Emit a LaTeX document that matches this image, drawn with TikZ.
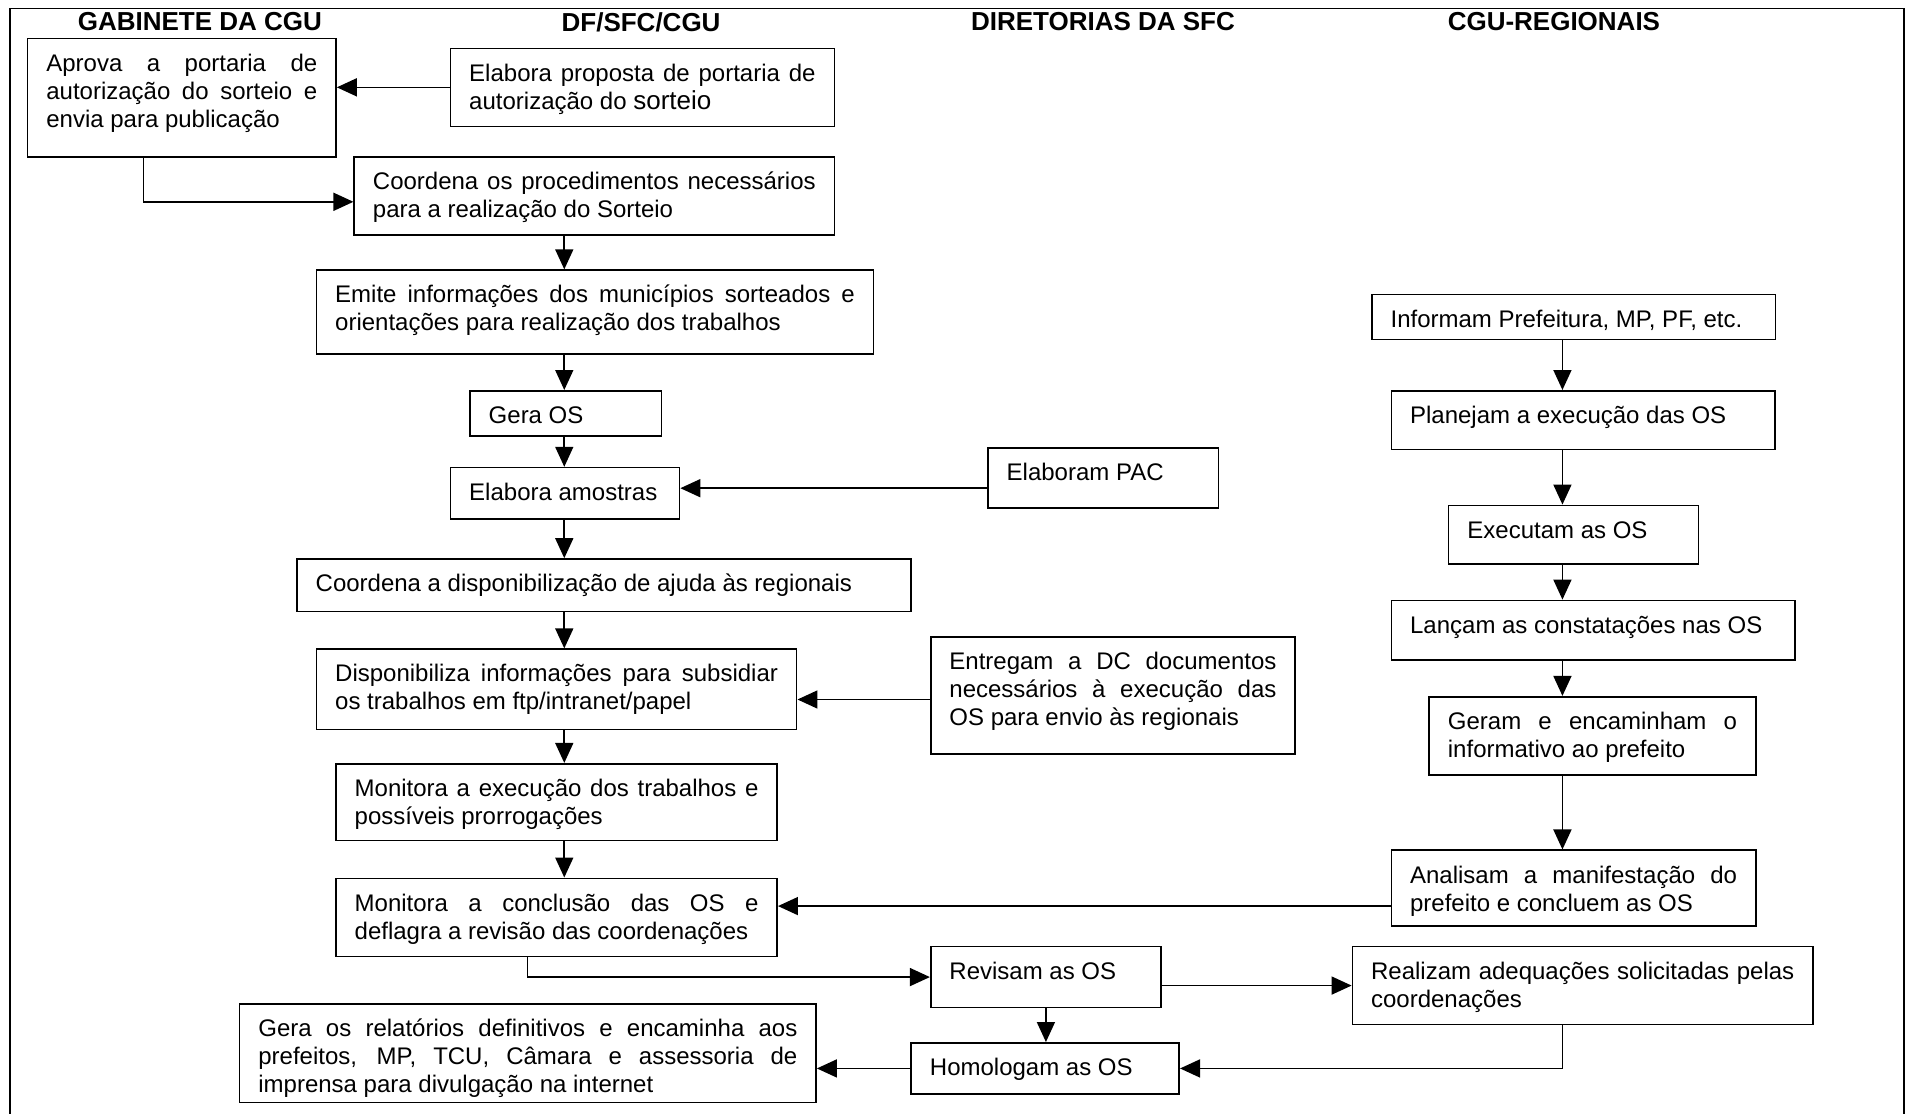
\documentclass[tikz,border=0pt]{standalone}
\usepackage{fontspec}
\setmainfont{Liberation Sans}
\usetikzlibrary{arrows.meta}
\tolerance=9999
\hbadness=10000

\tikzset{
  etapa/.style 2 args={draw, line width=0.8pt, anchor=north west, align=justify,
    inner xsep=9.36pt, inner ysep=5pt, text height=11.4pt,
    text width=#1, text depth=#2, font=\fontsize{12}{14}\selectfont},
  titulo/.style={font=\fontsize{13}{15}\selectfont\bfseries},
  seta/.style={-{Triangle[length=10pt,width=9pt]}, line width=0.8pt}
}

\begin{document}
\begin{tikzpicture}[x=0.6094pt, y=-0.6094pt]
  \useasboundingbox (0,0) rectangle (1568,914);
  \draw[line width=0.8pt] (8,914) -- (8,7) -- (1562,7) -- (1562,914);

  \node[titulo] (gabinete) at (164,18) {GABINETE DA CGU};
  \node[titulo] (dfsfc) at (526,18) {DF/SFC/CGU};
  \node[titulo] (diretorias) at (905,18) {DIRETORIAS DA SFC};
  \node[titulo] (regionais) at (1275,18) {CGU-REGIONAIS};

  \coordinate (eixo) at (463,0);
  \coordinate (eixoR) at (1282,0);

  \node[etapa={135.5pt}{37.7pt}] (aprova) at (22,31)
    {Aprova a portaria de\linebreak autorização do sorteio e\linebreak envia para publicação};
  \node[etapa={173.2pt}{17.6pt}] (proposta) at (369,39)
    {Elabora proposta de portaria de\linebreak autorização do {\fontsize{13}{14}\selectfont sorteio}};
  \node[etapa={221.4pt}{17.6pt}] (coordena) at (290,128)
    {Coordena os procedimentos necessários\linebreak para a realização do Sorteio};
  \node[etapa={259.8pt}{20.6pt}] (emite) at (259,221)
    {Emite informações dos municípios sorteados e\linebreak orientações para realização dos trabalhos};
  \node[etapa={77pt}{1.1pt}] (geraos) at (385,320) {Gera OS};
  \node[etapa={95.8pt}{4.2pt}] (amostras) at (369,383) {Elabora amostras};
  \node[etapa={96.5pt}{8.5pt}] (pac) at (810,367) {Elaboram PAC};
  \node[etapa={288.4pt}{4.8pt}] (ajuda) at (243,458)
    {Coordena a disponibilização de ajuda às regionais};
  \node[etapa={221.4pt}{18.8pt}] (disponibiliza) at (259,532)
    {Disponibiliza informações para subsidiar\linebreak os trabalhos em ftp/intranet/papel};
  \node[etapa={163.5pt}{37.1pt}] (entregam) at (763,522)
    {Entregam a DC documentos\linebreak necessários à execução das\linebreak OS para envio às regionais};
  \node[etapa={201.9pt}{17pt}] (monitoraexec) at (275,626)
    {Monitora a execução dos trabalhos e\linebreak possíveis prorrogações};
  \node[etapa={201.9pt}{17.6pt}] (monitoraconcl) at (275,720)
    {Monitora a conclusão das OS e\linebreak deflagra a revisão das coordenações};
  \node[etapa={96.5pt}{9.1pt}] (revisam) at (763,776) {Revisam as OS};
  \node[etapa={115.3pt}{4.2pt}] (homologam) at (747,855) {Homologam as OS};
  \node[etapa={269.5pt}{28pt}] (relatorios) at (196,823)
    {Gera os relatórios definitivos e encaminha aos\linebreak prefeitos, MP, TCU, Câmara e assessoria de\linebreak imprensa para divulgação na internet};

  \node[etapa={183pt}{1.1pt}] (informam) at (1125,241) {Informam Prefeitura, MP, PF, etc.};
  \node[etapa={173.2pt}{7.9pt}] (planejam) at (1141,320) {Planejam a execução das OS};
  \node[etapa={106.2pt}{7.9pt}] (executam) at (1188,414) {Executam as OS};
  \node[etapa={183pt}{8.5pt}] (lancam) at (1141,492) {Lançam as constatações nas OS};
  \node[etapa={144.6pt}{17.6pt}] (geram) at (1172,571)
    {Geram e encaminham o\linebreak informativo ao prefeito};
  \node[etapa={163.5pt}{16.4pt}] (analisam) at (1141,697)
    {Analisam a manifestação do\linebreak prefeito e concluem as OS};
  \node[etapa={211.6pt}{17.6pt}] (realizam) at (1109,776)
    {Realizam adequações solicitadas pelas\linebreak coordenações};

  \draw[seta] (proposta.west) -- (proposta.west -| aprova.east);
  \draw[seta] ([xshift=-19.2pt]aprova.south) |- ([yshift=-3pt]coordena.west);
  \foreach \a/\b in {coordena/emite, emite/geraos, geraos/amostras, amostras/ajuda,
      ajuda/disponibiliza, disponibiliza/monitoraexec, monitoraexec/monitoraconcl}
    \draw[seta] (\a.south -| eixo) -- (\b.north -| eixo);
  \foreach \a/\b in {informam/planejam, planejam/executam, executam/lancam,
      lancam/geram, geram/analisam}
    \draw[seta] (\a.south -| eixoR) -- (\b.north -| eixoR);
  \coordinate (s2) at ([yshift=2.5pt]amostras.east);
  \draw[seta] (s2 -| pac.west) -- (s2);
  \coordinate (s4) at ([yshift=-2pt]entregam.west);
  \draw[seta] (s4) -- (s4 -| disponibiliza.east);
  \coordinate (s6) at ([yshift=-9pt]analisam.west);
  \draw[seta] (s6) -- (s6 -| monitoraconcl.east);
  \draw[seta] ([xshift=-14.6pt]monitoraconcl.south) |- (revisam.west);
  \draw[seta] (revisam.east |- realizam.west) -- (realizam.west);
  \draw[seta] (revisam.south) -- (revisam.south |- homologam.north);
  \draw[seta] (realizam.south -| eixoR) |- (homologam.east);
  \draw[seta] (homologam.west) -- (homologam.west -| relatorios.east);
\end{tikzpicture}
\end{document}
